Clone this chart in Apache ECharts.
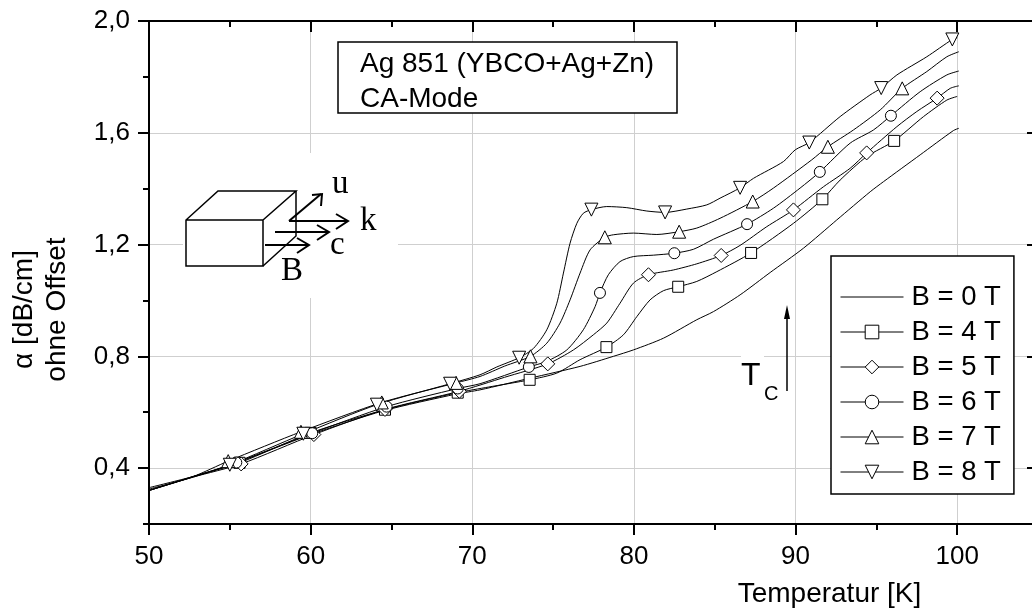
<!DOCTYPE html>
<html>
<head>
<meta charset="utf-8">
<style>html,body{margin:0;padding:0;background:#fff;overflow:hidden}#chart{width:1032px;height:614px}</style>
<script src="https://cdn.jsdelivr.net/npm/echarts@6/dist/echarts.min.js"></script>
</head>
<body>
<div id="chart"></div>
<script>
const FONT = "Liberation Sans";
const SERIF = "Liberation Serif";

const seriesNames = ["B = 0 T", "B = 4 T", "B = 5 T", "B = 6 T", "B = 7 T", "B = 8 T"];

const temp0 = [50, 52.74, 55, 60, 64.5, 69, 70.48, 73.58, 76.67, 78.73, 79.97, 81.83, 83.89, 84.92, 86.57, 88.43, 90.49, 92.55, 94.62, 95.44, 97.71, 99.77, 100.1];
const alpha0 = [0.32, 0.37, 0.41, 0.52, 0.605, 0.665, 0.68, 0.722, 0.764, 0.8, 0.823, 0.865, 0.931, 0.96, 1.02, 1.1, 1.187, 1.288, 1.389, 1.425, 1.521, 1.608, 1.616];

const temp4 = [50, 52.74, 55.6, 60, 64.6, 69.1, 71, 73.55, 75.23, 76.67, 78.3, 79.35, 80.18, 81, 81.83, 82.74, 83.89, 85.13, 87.25, 89.87, 91.66, 92.76, 94.41, 96.1, 97.92, 99.36, 100];
const alpha4 = [0.33, 0.37, 0.419, 0.526, 0.609, 0.67, 0.69, 0.716, 0.74, 0.788, 0.833, 0.877, 0.942, 1.002, 1.035, 1.049, 1.068, 1.103, 1.17, 1.276, 1.362, 1.431, 1.515, 1.571, 1.658, 1.717, 1.73];
const marks4 = [55.6, 60, 64.6, 69.1, 73.55, 78.3, 82.74, 87.25, 91.66, 96.1];

const temp5 = [50, 52.74, 55.7, 60.2, 64.6, 69.2, 72, 74.67, 76.26, 77.49, 78.32, 79.14, 79.97, 80.9, 82.44, 83.89, 85.4, 86.57, 88.22, 89.87, 91.73, 93.38, 94.4, 96.27, 97.5, 98.76, 99.57, 100.1];
const alpha5 = [0.32, 0.368, 0.415, 0.52, 0.61, 0.675, 0.725, 0.773, 0.823, 0.877, 0.919, 0.99, 1.062, 1.092, 1.109, 1.131, 1.161, 1.197, 1.264, 1.324, 1.407, 1.473, 1.528, 1.622, 1.676, 1.724, 1.759, 1.768];
const marks5 = [55.7, 60.2, 64.6, 69.2, 74.67, 80.9, 85.4, 89.87, 94.4, 98.76];

const temp6 = [50, 52.74, 55.4, 60.1, 64.7, 69.1, 70.48, 73.5, 74.61, 75.85, 76.87, 77.6, 77.9, 78.42, 79.14, 79.97, 81.2, 82.5, 83.68, 84.92, 87, 88.63, 90.28, 91.5, 93.38, 94.82, 95.9, 97.71, 99.36, 100.1];
const alpha6 = [0.325, 0.368, 0.42, 0.525, 0.62, 0.685, 0.702, 0.762, 0.782, 0.823, 0.895, 0.978, 1.027, 1.092, 1.139, 1.157, 1.162, 1.169, 1.183, 1.219, 1.273, 1.33, 1.402, 1.46, 1.563, 1.61, 1.661, 1.747, 1.807, 1.821];
const marks6 = [55.4, 60.1, 64.7, 69.1, 73.5, 77.9, 82.5, 87, 91.5, 95.9];

const temp7 = [50, 52.74, 54.9, 59.4, 64.4, 69, 70.48, 72, 73.6, 74.61, 75.43, 76.05, 76.67, 77.29, 78.2, 78.73, 79.97, 81.42, 82.8, 83.89, 85.33, 87.35, 88.63, 91, 92, 93.58, 95.24, 96.6, 98.12, 99.36, 100.1];
const alpha7 = [0.32, 0.37, 0.425, 0.53, 0.635, 0.705, 0.728, 0.765, 0.8, 0.847, 0.919, 1.002, 1.098, 1.181, 1.226, 1.235, 1.241, 1.236, 1.246, 1.259, 1.294, 1.354, 1.402, 1.503, 1.55, 1.61, 1.682, 1.759, 1.819, 1.872, 1.89];
const marks7 = [54.9, 59.4, 64.4, 69, 73.6, 78.2, 82.8, 87.35, 92, 96.6];

const temp8 = [50, 52.74, 55, 59.55, 64.1, 68.63, 70.48, 71.52, 72.9, 73.78, 74.61, 75.23, 75.64, 76.05, 76.47, 76.87, 77.37, 78.32, 79.56, 80.8, 81.93, 83.27, 84.51, 85.33, 86.57, 87.4, 89.25, 89.98, 90.85, 92.76, 94.6, 95.3, 96.27, 98.12, 99.7, 100];
const alpha8 = [0.32, 0.37, 0.412, 0.523, 0.627, 0.702, 0.734, 0.762, 0.795, 0.828, 0.895, 0.99, 1.098, 1.205, 1.276, 1.312, 1.325, 1.336, 1.332, 1.32, 1.315, 1.327, 1.342, 1.366, 1.403, 1.437, 1.497, 1.539, 1.565, 1.658, 1.735, 1.76, 1.807, 1.872, 1.934, 1.94];
const marks8 = [55, 59.55, 64.1, 68.63, 72.9, 77.37, 81.93, 86.57, 90.85, 95.3, 99.7];

const yMajor = [0.4, 0.8, 1.2, 1.6, 2.0];
const yMinor = [0.2, 0.6, 1.0, 1.4, 1.8];

const chart = echarts.init(document.getElementById("chart"), null, { renderer: "canvas" });

function makeData(temps, alphas, marks) {
  return temps.map((t, i) =>
    marks.includes(t) ? [t, alphas[i]] : { value: [t, alphas[i]], symbol: "none" },
  );
}

function makeSeries(name, temps, alphas, marks, symbol, size, rotate) {
  return {
    name,
    type: "line",
    data: makeData(temps, alphas, marks),
    smooth: 0.25,
    symbol,
    symbolSize: size,
    symbolRotate: rotate,
    showAllSymbol: true,
    lineStyle: { color: "#000", width: 1 },
    itemStyle: { color: "#fff", borderColor: "#000", borderWidth: 1 },
    emphasis: { disabled: true },
    clip: false,
  };
}

const axisLine = { show: true, onZero: false, lineStyle: { color: "#000", width: 2 } };
const tickMajor = { show: true, length: 11, lineStyle: { color: "#000", width: 2 } };
const tickMinor = { show: true, length: 6, lineStyle: { color: "#000", width: 2 } };
const gridLine = { show: true, lineStyle: { color: "#cfcfcf", width: 1 } };

function yAxisAt(position, values, tick, inside, extra) {
  return {
    type: "value",
    position,
    min: 0.2,
    max: 2.0,
    axisLine,
    axisTick: { ...tick, inside, customValues: values },
    axisLabel: { show: false, customValues: values },
    splitLine: { show: false },
    ...extra,
  };
}

const wire = { fill: null, stroke: "#000", lineWidth: 1.5 };
const arrow = { fill: null, stroke: "#000", lineWidth: 2 };

const option = {
  animation: false,
  backgroundColor: "#fff",
  grid: { left: 149, top: 21, width: 889, height: 503, containLabel: false, outerBoundsMode: "none" },
  xAxis: [
    {
      type: "value",
      min: 50,
      max: 105,
      interval: 10,
      name: "Temperatur [K]",
      nameLocation: "middle",
      nameGap: 56,
      nameTextStyle: { fontFamily: FONT, fontSize: 28, color: "#000", padding: [0, 0, 0, 472] },
      axisLine,
      axisTick: tickMajor,
      minorTick: { show: true, splitNumber: 2, length: 6, lineStyle: { color: "#000", width: 2 } },
      axisLabel: {
        fontFamily: FONT, fontSize: 26, color: "#000", margin: 20,
        showMaxLabel: false,
      },
      splitLine: gridLine,
    },
    {
      type: "value",
      position: "top",
      min: 50,
      max: 105,
      interval: 10,
      axisLine,
      axisTick: { ...tickMajor, inside: true },
      minorTick: { show: true, splitNumber: 2, length: 6, lineStyle: { color: "#000", width: 2 } },
      axisLabel: { show: false },
      splitLine: { show: false },
    },
  ],
  yAxis: [
    yAxisAt("left", yMajor, tickMajor, false, {
      name: "α [dB/cm]\nohne Offset",
      nameLocation: "middle",
      nameGap: 75,
      nameRotate: 90,
      nameTextStyle: { fontFamily: FONT, fontSize: 28, color: "#000", lineHeight: 33, padding: [0, 74, 0, 0] },
      axisLabel: {
        show: true, fontFamily: FONT, fontSize: 26, color: "#000", margin: 19,
        customValues: yMajor,
        formatter: (v) => v.toFixed(1).replace(".", ","),
      },
      splitLine: gridLine,
    }),
    yAxisAt("left", yMinor, tickMinor, false),
    yAxisAt("right", yMajor, tickMajor, true),
    yAxisAt("right", yMinor, tickMinor, true),
  ],
  legend: {
    orient: "vertical",
    left: 831,
    top: 256,
    padding: [27, 13, 8, 9],
    itemWidth: 63,
    itemHeight: 17,
    itemGap: 7,
    backgroundColor: "#fff",
    borderColor: "#000",
    borderWidth: 1.5,
    borderRadius: 0,
    selectedMode: false,
    lineStyle: { width: 1 },
    itemStyle: { borderWidth: 1 },
    textStyle: { fontFamily: FONT, fontSize: 27.5, color: "#000", padding: [0, 0, 0, 3] },
    data: [
      { name: seriesNames[0], itemStyle: { opacity: 0 } },
      seriesNames[1], seriesNames[2], seriesNames[3], seriesNames[4], seriesNames[5],
    ],
  },
  series: [
    makeSeries(seriesNames[0], temp0, alpha0, [], "none", 0, 0),
    makeSeries(seriesNames[1], temp4, alpha4, marks4, "rect", 11, 0),
    makeSeries(seriesNames[2], temp5, alpha5, marks5, "diamond", 14, 0),
    makeSeries(seriesNames[3], temp6, alpha6, marks6, "circle", 11, 0),
    makeSeries(seriesNames[4], temp7, alpha7, marks7, "triangle", 13, 0),
    makeSeries(seriesNames[5], temp8, alpha8, marks8, "triangle", 13, 180),
  ],
  graphic: [
    // white backing behind the inset pictures, hides the grid lines
    { type: "rect", z: 1, shape: { x: 183, y: 153, width: 215, height: 145 }, style: { fill: "#fff" } },
    { type: "rect", z: 1, shape: { x: 741, y: 340, width: 23, height: 65 }, style: { fill: "#fff" } },
    {
      type: "rect", z: 1,
      shape: { x: 338, y: 42, width: 339, height: 71 },
      style: { fill: "#fff", stroke: "#000", lineWidth: 1.5 },
    },
    {
      type: "text", z: 3, x: 360, y: 47,
      style: { text: "Ag 851 (YBCO+Ag+Zn)\nCA-Mode", font: `28px "${FONT}"`, lineHeight: 35, fill: "#000" },
    },
    // cube
    {
      type: "polyline", z: 3,
      shape: { points: [[186, 220], [263, 220], [263, 266], [186, 266], [186, 220], [218, 191], [296, 191], [263, 220]] },
      style: wire,
    },
    { type: "polyline", z: 3, shape: { points: [[296, 191], [296, 236], [263, 266]] }, style: wire },
    // direction arrows
    { type: "polyline", z: 3, shape: { points: [[289, 221], [321, 194]] }, style: arrow },
    { type: "polyline", z: 3, shape: { points: [[312, 195], [322, 194], [321, 206]] }, style: arrow },
    { type: "polyline", z: 3, shape: { points: [[289, 221], [348, 221]] }, style: arrow },
    { type: "polyline", z: 3, shape: { points: [[336, 214], [348, 221], [336, 229]] }, style: arrow },
    { type: "polyline", z: 3, shape: { points: [[275, 232], [329, 232]] }, style: arrow },
    { type: "polyline", z: 3, shape: { points: [[317, 225], [329, 232], [317, 240]] }, style: arrow },
    { type: "polyline", z: 3, shape: { points: [[265, 245], [309, 245]] }, style: arrow },
    { type: "polyline", z: 3, shape: { points: [[297, 238], [309, 245], [297, 253]] }, style: arrow },
    { type: "text", z: 3, x: 332, y: 168, style: { text: "u", font: `33px "${SERIF}"`, fill: "#000" } },
    { type: "text", z: 3, x: 360, y: 205, style: { text: "k", font: `33px "${SERIF}"`, fill: "#000" } },
    { type: "text", z: 3, x: 330, y: 229, style: { text: "c", font: `33px "${SERIF}"`, fill: "#000" } },
    { type: "text", z: 3, x: 281, y: 255, style: { text: "B", font: `33px "${SERIF}"`, fill: "#000" } },
    // Tc arrow
    { type: "polyline", z: 3, shape: { points: [[787, 391], [787, 316]] }, style: wire },
    { type: "polygon", z: 3, shape: { points: [[787, 305], [790, 319], [784, 319]] }, style: { fill: "#000" } },
    { type: "text", z: 3, x: 741, y: 360, style: { text: "T", font: `32px "${FONT}"`, fill: "#000" } },
    { type: "text", z: 3, x: 764, y: 384, style: { text: "C", font: `20px "${FONT}"`, fill: "#000" } },
  ],
};

chart.setOption(option);
</script>
</body>
</html>
